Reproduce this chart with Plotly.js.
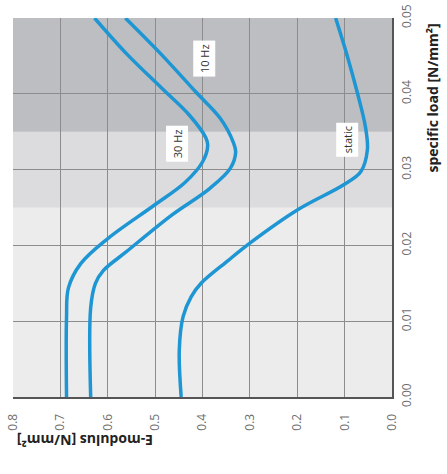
<!DOCTYPE html>
<html><head><meta charset="utf-8">
<script src="https://cdn.plot.ly/plotly-3.0.1.min.js"></script>
<style>html,body{margin:0;padding:0;background:#fff}</style>
</head><body>
<div id="chart" style="width:447px;height:474px"></div>
<script>
// specific load [N/mm²] (vertical) and E-modulus [N/mm²] (horizontal)
var load30 = [0, 0.0105, 0.0144, 0.0176, 0.0209, 0.0253, 0.0283, 0.0310, 0.0332, 0.0342, 0.0372, 0.0408, 0.0452, 0.05];
var e30    = [0.687, 0.687, 0.683, 0.657, 0.600, 0.502, 0.437, 0.400, 0.389, 0.393, 0.428, 0.487, 0.559, 0.628];
var load10 = [0, 0.0118, 0.0150, 0.0167, 0.0191, 0.0240, 0.0275, 0.0302, 0.0323, 0.0336, 0.0368, 0.0403, 0.0452, 0.05];
var e10    = [0.636, 0.636, 0.626, 0.609, 0.562, 0.465, 0.385, 0.341, 0.330, 0.335, 0.363, 0.415, 0.487, 0.563];
var loadStatic = [0, 0.0062, 0.0106, 0.0132, 0.0150, 0.0180, 0.0203, 0.0247, 0.0280, 0.0297, 0.0326, 0.0356, 0.0401, 0.0449, 0.05];
var eStatic    = [0.445, 0.449, 0.441, 0.424, 0.403, 0.346, 0.300, 0.199, 0.102, 0.066, 0.052, 0.056, 0.073, 0.094, 0.119];
var seriesNames = ["30 Hz", "10 Hz", "static"];
var labelE    = [0.453, 0.397, 0.095];
var labelLoad = [0.0334, 0.0447, 0.034];
var bandEdges = [0, 0.025, 0.035, 0.05];
var bandColors = ["#ececec", "#dcdcde", "#bdbec2"];

var lineColor = "#1e96d3";
var traces = [[e30, load30], [e10, load10], [eStatic, loadStatic]].map(function (d, i) {
  return {x: d[0], y: d[1], type: "scatter", mode: "lines", name: seriesNames[i],
    line: {color: lineColor, width: 3.5, shape: "spline", smoothing: 1}, hoverinfo: "skip"};
});

var shapes = [];
for (var i = 0; i < bandColors.length; i++) {
  shapes.push({type: "rect", xref: "paper", yref: "y", x0: 0, x1: 1, y0: bandEdges[i], y1: bandEdges[i + 1],
    fillcolor: bandColors[i], line: {width: 0}, layer: "below"});
}

var annotations = seriesNames.map(function (n, i) {
  return {x: labelE[i], y: labelLoad[i], xref: "x", yref: "y", text: n, showarrow: false, textangle: -90,
    xanchor: "center", yanchor: "middle",
    bgcolor: "#ffffff", borderpad: 3, font: {family: "Open Sans, sans-serif", size: 11, color: "#333"}};
});
annotations.push({xref: "paper", yref: "paper", x: 0.19, y: -0.113, xanchor: "center", yanchor: "middle",
  text: "<b>E-modulus [N/mm²]</b>",
  showarrow: false, textangle: 180, font: {family: "Open Sans, sans-serif", size: 14, color: "#222"}});
annotations.push({xref: "paper", yref: "paper", x: 1.108, y: 0.79, xanchor: "center", yanchor: "middle",
  text: "<b>specific load [N/mm²]</b>",
  showarrow: false, textangle: -90, font: {family: "Open Sans, sans-serif", size: 14, color: "#222"}});

var layout = {
  width: 447, height: 474,
  margin: {l: 13, r: 55, t: 18, b: 77},
  paper_bgcolor: "#ffffff", plot_bgcolor: "#ececec",
  showlegend: false,
  xaxis: {range: [0.8, 0], dtick: 0.1, tick0: 0, tickformat: ".1f", tickangle: -90,
    showgrid: true, gridcolor: "#8c8c8c", gridwidth: 1.2, zeroline: false,
    showline: true, linecolor: "#555", linewidth: 2, ticks: "", ticklabelstandoff: 10,
    tickfont: {family: "Open Sans, sans-serif", size: 12, color: "#6e6e6e"}},
  yaxis: {range: [0, 0.05], dtick: 0.01, tick0: 0, tickformat: ".2f", tickangle: -90, side: "right",
    showgrid: true, gridcolor: "#8c8c8c", gridwidth: 1.2, zeroline: false,
    showline: true, linecolor: "#555", linewidth: 2, ticks: "", ticklabelstandoff: 3,
    tickfont: {family: "Open Sans, sans-serif", size: 12, color: "#6e6e6e"}},
  shapes: shapes,
  annotations: annotations
};
Plotly.newPlot("chart", traces, layout, {staticPlot: true});
</script>
</body></html>
